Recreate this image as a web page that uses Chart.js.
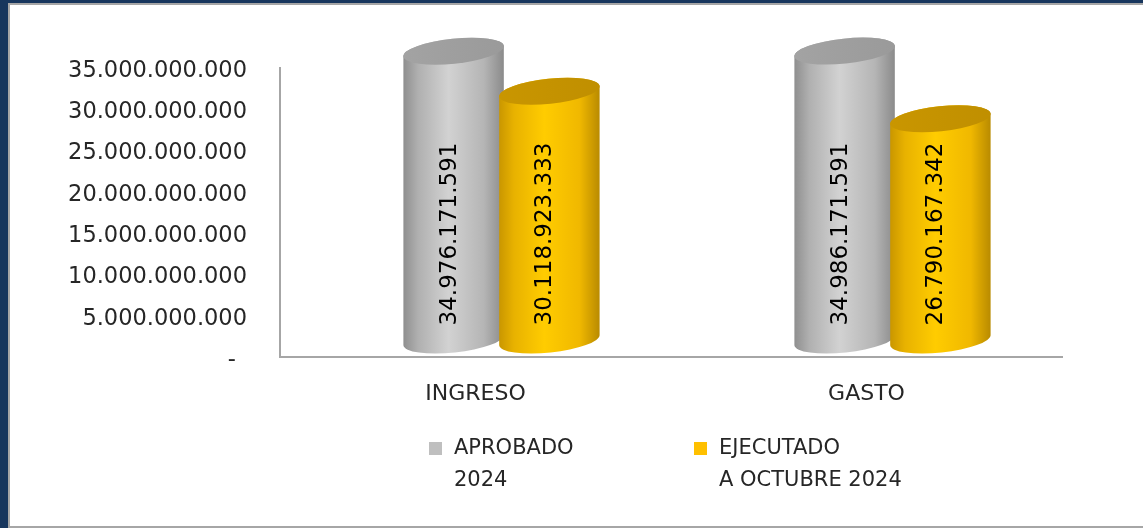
<!DOCTYPE html>
<html>
<head>
<meta charset="utf-8">
<script src="https://cdn.jsdelivr.net/npm/chart.js@4.4.1/dist/chart.umd.min.js"></script>
<style>
  html, body { margin: 0; padding: 0; background: #17365d; width: 1143px; height: 528px; overflow: hidden; }
  #frame {
    position: absolute; left: 8px; top: 3px; width: 1140px; height: 525px;
    box-sizing: border-box; background: #fff;
    border-left: 2px solid #a6a6a6; border-top: 2px solid #a6a6a6; border-bottom: 2px solid #a6a6a6;
  }
  #wrap { position: absolute; left: 0; top: 0; width: 1133px; height: 521px; }
</style>
</head>
<body>
<div id="frame"><div id="wrap"><canvas id="chart"></canvas></div></div>
<script>
// data
const categories = ["INGRESO", "GASTO"];
const aprobado = [34976171591, 34986171591];
const ejecutado = [30118923333, 26790167342];
const seriesLabels = [["APROBADO", "2024"], ["EJECUTADO", "A OCTUBRE 2024"]];
const yMax = 35000000000;
const yStep = 5000000000;

const FONT = "'DejaVu Sans', sans-serif";
const TEXT = "#262626";

function fmt(v) {
  if (v === 0) return "-\u2002";
  return String(Math.round(v)).replace(/\B(?=(\d{3})+(?!\d))/g, ".");
}

// 3D look: each cylinder is pushed back (right and up) like the Excel chart
const DX = 26, DY = -17, ROT = -6 * Math.PI / 180;

const cylinders = {
  id: "cylinders",
  afterDatasetsDraw(chart) {
    const ctx = chart.ctx;
    chart.data.datasets.forEach((ds, di) => {
      const meta = chart.getDatasetMeta(di);
      meta.data.forEach((el, i) => {
        const cx = el.x + DX;
        const rx = el.width * 0.527;
        const ry = 12.5;
        const top = el.y + DY;
        const base = el.base + DY;

        ctx.save();
        const g = ctx.createLinearGradient(cx - rx, 0, cx + rx, 0);
        ds.bodyStops.forEach(s => g.addColorStop(s[0], s[1]));
        ctx.fillStyle = g;
        ctx.beginPath();
        ctx.ellipse(cx, base, rx, ry, ROT, 0, Math.PI, false);
        ctx.ellipse(cx, top, rx, ry, ROT, Math.PI, 2 * Math.PI, false);
        ctx.closePath();
        ctx.fill();

        const tg = ctx.createLinearGradient(cx - rx, 0, cx + rx, 0);
        tg.addColorStop(0, ds.topColors[0]);
        tg.addColorStop(1, ds.topColors[1]);
        ctx.fillStyle = tg;
        ctx.beginPath();
        ctx.ellipse(cx, top, rx, ry, ROT, 0, 2 * Math.PI);
        ctx.fill();

        // value label, rotated
        ctx.translate(cx - 4, el.base - 123);
        ctx.rotate(-Math.PI / 2);
        ctx.fillStyle = "#000";
        ctx.font = "23px " + FONT;
        ctx.textAlign = "center";
        ctx.textBaseline = "middle";
        ctx.fillText(fmt(ds.data[i]), 0, 0);
        ctx.restore();
      });
    });
  }
};

const legendBlock = {
  id: "legendBlock",
  afterDraw(chart) {
    const ctx = chart.ctx;
    const items = [
      { x: 419, color: chart.data.datasets[0].legendColor, lines: seriesLabels[0] },
      { x: 684, color: chart.data.datasets[1].legendColor, lines: seriesLabels[1] }
    ];
    ctx.save();
    ctx.font = "21px " + FONT;
    ctx.textBaseline = "middle";
    items.forEach(it => {
      ctx.fillStyle = it.color;
      ctx.fillRect(it.x, 437, 13, 13);
      ctx.fillStyle = TEXT;
      it.lines.forEach((t, k) => ctx.fillText(t, it.x + 25, 444 + k * 32));
    });
    ctx.restore();
  }
};

new Chart(document.getElementById("chart"), {
  type: "bar",
  data: {
    labels: categories,
    datasets: [
      {
        label: seriesLabels[0].join(" "),
        data: aprobado,
        backgroundColor: "rgba(0,0,0,0)",
        legendColor: "#bfbfbf",
        bodyStops: [[0, "#8e8e8e"], [0.15, "#b0b0b0"], [0.45, "#d2d2d2"], [0.8, "#b5b5b5"], [1, "#8a8a8a"]],
        topColors: ["#a3a3a3", "#9a9a9a"]
      },
      {
        label: seriesLabels[1].join(" "),
        data: ejecutado,
        backgroundColor: "rgba(0,0,0,0)",
        legendColor: "#ffc000",
        bodyStops: [[0, "#c99600"], [0.15, "#e8b200"], [0.45, "#ffcc00"], [0.8, "#f0b800"], [1, "#b88a00"]],
        topColors: ["#c99600", "#c08f00"]
      }
    ]
  },
  options: {
    responsive: true,
    maintainAspectRatio: false,
    animation: false,
    layout: { padding: { left: 10, right: 81, top: 63, bottom: 0 } },
    plugins: { legend: { display: false }, tooltip: { enabled: false } },
    datasets: { bar: { categoryPercentage: 0.49, barPercentage: 1.0 } },
    scales: {
      x: {
        grid: { display: false },
        border: { display: true, color: "#a6a6a6", width: 2 },
        ticks: { color: TEXT, font: { family: FONT, size: 22 }, padding: 16 },
        afterFit(scale) { scale.height = 169; }
      },
      y: {
        min: 0,
        max: yMax,
        grid: { display: false },
        border: { display: true, color: "#a6a6a6", width: 2 },
        ticks: {
          stepSize: yStep,
          color: TEXT,
          font: { family: FONT, size: 22.5 },
          padding: 25,
          labelOffset: 3,
          callback: v => fmt(v)
        },
        afterFit(scale) { scale.width = 260; }
      }
    }
  },
  plugins: [cylinders, legendBlock]
});
</script>
</body>
</html>
